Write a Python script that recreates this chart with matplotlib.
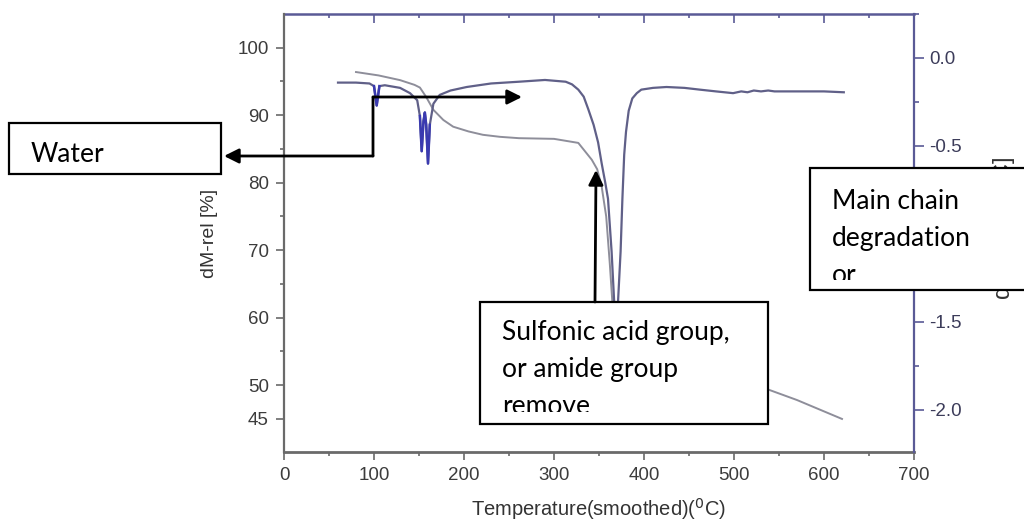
import matplotlib
matplotlib.use('Agg')
import numpy as np
import matplotlib.pyplot as plt
from matplotlib.ticker import MultipleLocator, FixedLocator
from matplotlib.patches import Rectangle, FancyArrowPatch

# TGA curve (left axis, %)
tga_temp = [80, 105, 129, 145, 151, 158, 166, 177, 188, 205, 221, 240, 261, 300, 327,
            342, 348, 353, 358, 362, 365, 368, 375, 400, 450, 500, 533, 570, 620]
tga_mass = [96.4, 95.9, 95.2, 94.5, 94.1, 92.7, 90.8, 89.3, 88.3, 87.6, 87.1, 86.8, 86.6, 86.5, 85.9,
            83.4, 82.0, 79.4, 75.0, 68.0, 62.0, 58.5, 56.0, 54.0, 52.0, 50.8, 49.6, 47.8, 45.0]

# DTG curve (right axis, %/C)
dtg_temp = [60, 80, 95, 100, 103, 106, 112, 129, 140, 148, 151, 153, 155, 156.5, 158, 160,
            162, 166, 173, 185, 203, 230, 261, 290, 313, 320, 327, 333, 338, 344, 349, 353,
            357, 360, 364, 367, 369, 371, 374, 376, 378, 380, 383, 387, 392, 397, 410, 425,
            445, 462, 480, 499, 508, 515, 522, 530, 538, 545, 555, 573, 600, 622]
dtg_rate = [-0.14, -0.14, -0.145, -0.16, -0.27, -0.16, -0.155, -0.17, -0.20, -0.24, -0.33, -0.53,
            -0.36, -0.31, -0.38, -0.60, -0.38, -0.26, -0.21, -0.185, -0.165, -0.145, -0.135,
            -0.125, -0.135, -0.15, -0.18, -0.22, -0.29, -0.38, -0.48, -0.60, -0.71, -0.80,
            -1.10, -1.40, -1.90, -1.40, -1.10, -0.80, -0.55, -0.42, -0.30, -0.23, -0.20, -0.18,
            -0.17, -0.165, -0.17, -0.18, -0.19, -0.20, -0.19, -0.195, -0.185, -0.19, -0.185,
            -0.19, -0.19, -0.19, -0.19, -0.195]

x_ticks = [0, 100, 200, 300, 400, 500, 600, 700]
left_ticks = [45, 50, 60, 70, 80, 90, 100]
right_ticks = [0.0, -0.5, -1.0, -1.5, -2.0]

W, H = 1024, 526
fig = plt.figure(figsize=(W / 100, H / 100), dpi=100)
ax = fig.add_axes([284 / W, 1 - 452 / H, 630 / W, 438 / H])
ax2 = ax.twinx()

grey = '#6a6a6a'
navy = '#5a5a96'

ax.plot(tga_temp, tga_mass, color='#8e8e9a', lw=1.4)
ax2.plot(dtg_temp, dtg_rate, color='#606088', lw=1.6)
t = np.array(dtg_temp)
r = np.array(dtg_rate)
for lo, hi in [(97, 108), (149, 164)]:
    m = (t >= lo) & (t <= hi)
    ax2.plot(t[m], r[m], color='#3a3ab0', lw=1.8)

ax.set_xlim(0, 700)
ax.set_ylim(40.1, 105)
ax2.set_ylim(-2.24, 0.25)

ax.set_xticks(x_ticks)
ax.xaxis.set_minor_locator(MultipleLocator(50))
ax.set_yticks(left_ticks)
ax.yaxis.set_minor_locator(FixedLocator([55, 65, 75, 85, 95]))
ax2.set_yticks(right_ticks)
ax2.set_yticklabels([f'{v:.1f}' for v in right_ticks])
ax2.yaxis.set_minor_locator(MultipleLocator(0.25))

for lab in ax.get_xticklabels() + ax.get_yticklabels() + ax2.get_yticklabels():
    lab.set_fontfamily('Liberation Sans')
    lab.set_fontsize(13.5)

ax.tick_params(axis='both', which='major', direction='out', length=6, width=1.2,
               color=grey, labelcolor='#3c3c3c', pad=5)
ax.tick_params(axis='both', which='minor', direction='out', length=3, width=1.2, color=grey)
ax2.tick_params(axis='y', which='major', direction='out', length=7, width=1.2,
                color=navy, labelcolor='#3c3c5a', pad=4)
ax2.tick_params(axis='y', which='minor', direction='out', length=3.5, width=1.2, color=navy)

for a in (ax, ax2):
    a.spines['top'].set_visible(False)
ax.spines['right'].set_visible(False)
ax2.spines['left'].set_visible(False)
ax2.spines['bottom'].set_visible(False)
ax.spines['left'].set_color(grey)
ax.spines['left'].set_linewidth(1.6)
ax.spines['bottom'].set_color(grey)
ax.spines['bottom'].set_linewidth(2.0)
ax2.spines['right'].set_color(navy)
ax2.spines['right'].set_linewidth(1.6)

top = ax.secondary_xaxis('top')
top.set_xticks(x_ticks)
top.xaxis.set_minor_locator(MultipleLocator(50))
top.tick_params(which='major', direction='in', length=6.5, width=1.2, color=navy, labeltop=False)
top.tick_params(which='minor', direction='in', length=3, width=1.2, color=navy)
top.spines['top'].set_color(navy)
top.spines['top'].set_linewidth(1.8)

ax.set_xlabel('Temperature(smoothed)($^0$C)', fontfamily='Liberation Sans', fontsize=14.5, color='#333333')
ax.xaxis.set_label_coords(0.5, -0.1)
ax.set_ylabel('dM-rel [%]', fontfamily='Liberation Sans', fontsize=14, color='#333333')
ax.yaxis.set_label_coords(-0.105, 0.5)
ax2.set_ylabel('dM-rel [% $^0$C]', fontfamily='Liberation Sans', fontsize=17, color='#333333')
ax2.yaxis.set_label_coords(1.116, 0.51)


# overlay text boxes and arrows, given in pixel positions
def fx(x):
    return x / W


def fy(y):
    return 1 - y / H


def text_box(x0, y0, x1, y1, lines, baselines, clip_y):
    box = Rectangle((fx(x0), fy(y1)), (x1 - x0) / W, (y1 - y0) / H, transform=fig.transFigure,
                    facecolor='white', edgecolor='black', lw=1.6, zorder=5)
    fig.add_artist(box)
    clip = Rectangle((fx(x0), fy(clip_y)), (x1 - x0) / W, (clip_y - y0) / H,
                     transform=fig.transFigure, facecolor='none', edgecolor='none')
    for line, b in zip(lines, baselines):
        txt = fig.text(fx(x0 + 22), fy(b), line, va='baseline', ha='left', fontfamily='Lato',
                       fontsize=19, color='black', zorder=6, clip_on=True)
        txt.set_clip_path(clip)


text_box(9, 123, 221, 174, ['Water'], [162], 172)
text_box(480, 302, 768, 424, ['Sulfonic acid group,', 'or amide group', 'remove'], [340, 377, 414], 412)
text_box(810, 168, 1030, 290, ['Main chain', 'degradation', 'or'], [209, 246, 283], 280)


def arrow(p0, p1, head=True):
    style = '-|>' if head else '-'
    a = FancyArrowPatch((fx(p0[0]), fy(p0[1])), (fx(p1[0]), fy(p1[1])), transform=fig.transFigure,
                        arrowstyle=style, mutation_scale=22, lw=2, color='black',
                        shrinkA=0, shrinkB=0, zorder=6)
    fig.add_artist(a)


arrow((373, 156), (224, 156))
arrow((373, 97), (373, 156), head=False)
arrow((373, 97), (522, 97))
arrow((595, 302), (596, 170))

fig.savefig('out.png', dpi=100, facecolor='white')
